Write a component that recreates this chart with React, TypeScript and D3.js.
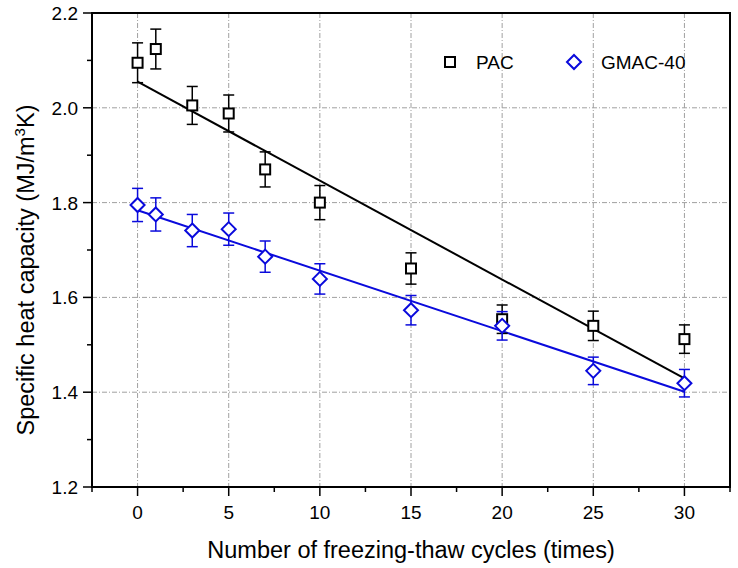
import React from "react";
import * as d3 from "d3";

const cycles = [0, 1, 3, 5, 7, 10, 15, 20, 25, 30];
const pacValues = [2.095, 2.124, 2.005, 1.988, 1.870, 1.800, 1.661, 1.554, 1.540, 1.512];
const pacErrors = [0.042, 0.042, 0.040, 0.039, 0.037, 0.036, 0.033, 0.030, 0.031, 0.030];
const gmacValues = [1.795, 1.775, 1.741, 1.744, 1.686, 1.639, 1.573, 1.540, 1.445, 1.419];
const gmacErrors = [0.035, 0.035, 0.034, 0.034, 0.033, 0.032, 0.031, 0.030, 0.029, 0.029];
const pacFit = [2.055, 1.429]; // at x=0 and x=30
const gmacFit = [1.784, 1.401];
const fitX = [0, 30];
const xTicks = [0, 5, 10, 15, 20, 25, 30];
const xMinorTicks = [-2.5, 2.5, 7.5, 12.5, 17.5, 22.5, 27.5, 32.5];
const yTicks = [1.2, 1.4, 1.6, 1.8, 2.0, 2.2];
const yMinorTicks = [1.3, 1.5, 1.7, 1.9, 2.1];
const seriesNames = ["PAC", "GMAC-40"];

const W = 738, H = 568;
const L = 92, R = 730, T = 13, B = 487;
const FONT = "Arial, 'Liberation Sans', sans-serif";
const BLUE = "#0a0adc";

export default function App() {
  const x = d3.scaleLinear().domain([-2.5, 32.5]).range([L, R]);
  const y = d3.scaleLinear().domain([1.2, 2.2]).range([B, T]);
  const line = d3.line<[number, number]>().x(d => x(d[0])).y(d => y(d[1]));

  const square = (cx: number, cy: number, key: string) => (
    <rect key={key} x={cx - 5} y={cy - 5} width={10} height={10} fill="white" stroke="black" strokeWidth={2} />
  );
  const diamond = (cx: number, cy: number, key: string, s = 7) => (
    <path key={key} d={`M${cx},${cy - s}L${cx + s},${cy}L${cx},${cy + s}L${cx - s},${cy}Z`} fill="white" stroke={BLUE} strokeWidth={2} />
  );
  const errBars = (vals: number[], errs: number[], color: string, pre: string) =>
    cycles.map((c, i) => {
      const cx = x(c), y1 = y(vals[i] + errs[i]), y2 = y(vals[i] - errs[i]);
      return (
        <g key={pre + i} stroke={color} strokeWidth={1.5}>
          <line x1={cx} x2={cx} y1={y1} y2={y2} />
          <line x1={cx - 5.5} x2={cx + 5.5} y1={y1} y2={y1} />
          <line x1={cx - 5.5} x2={cx + 5.5} y1={y2} y2={y2} />
        </g>
      );
    });

  return (
    <svg width={W} height={H} style={{ position: "absolute", left: 0, top: 0, background: "white" }} fontFamily={FONT}>
      {/* grid */}
      <g stroke="#a0a0a0" strokeWidth={1} strokeDasharray="5,2,1,2">
        {xTicks.map(t => <line key={"gx" + t} x1={x(t)} x2={x(t)} y1={T} y2={B} />)}
        {yTicks.filter(t => t > 1.2 && t < 2.2).map(t => <line key={"gy" + t} x1={L} x2={R} y1={y(t)} y2={y(t)} />)}
      </g>
      {/* fit lines */}
      <path d={line(fitX.map((v, i) => [v, pacFit[i]]) as any) || ""} stroke="black" strokeWidth={2} fill="none" />
      <path d={line(fitX.map((v, i) => [v, gmacFit[i]]) as any) || ""} stroke={BLUE} strokeWidth={2} fill="none" />
      {/* error bars */}
      {errBars(pacValues, pacErrors, "black", "pe")}
      {errBars(gmacValues, gmacErrors, BLUE, "ge")}
      {/* markers */}
      {cycles.map((c, i) => square(x(c), y(pacValues[i]), "ps" + i))}
      {cycles.map((c, i) => diamond(x(c), y(gmacValues[i]), "gd" + i))}
      {/* frame */}
      <rect x={L} y={T} width={R - L} height={B - T} fill="none" stroke="black" strokeWidth={2} />
      {/* ticks */}
      <g stroke="black" strokeWidth={1.5}>
        {xTicks.map(t => <line key={"xt" + t} x1={x(t)} x2={x(t)} y1={B} y2={B + 9} />)}
        {xMinorTicks.map(t => <line key={"xm" + t} x1={x(t)} x2={x(t)} y1={B} y2={B + 5} />)}
        {yTicks.map(t => <line key={"yt" + t} x1={L - 9} x2={L} y1={y(t)} y2={y(t)} />)}
        {yMinorTicks.map(t => <line key={"ym" + t} x1={L - 5} x2={L} y1={y(t)} y2={y(t)} />)}
      </g>
      <g fontSize={19} fill="black">
        {xTicks.map(t => <text key={"xl" + t} x={x(t)} y={519} textAnchor="middle">{t}</text>)}
        {yTicks.map(t => <text key={"yl" + t} x={78} y={y(t) + 7} textAnchor="end">{t.toFixed(1)}</text>)}
      </g>
      {/* axis titles */}
      <text x={(L + R) / 2} y={558} textAnchor="middle" fontSize={23.5}>Number of freezing-thaw cycles (times)</text>
      <text transform={`translate(34,270) rotate(-90)`} textAnchor="middle" fontSize={23.5}>
        Specific heat capacity (MJ/m<tspan dy={-9} fontSize={15}>3</tspan><tspan dy={9}>K)</tspan>
      </text>
      {/* legend */}
      {square(450, 62, "lg1")}
      <text x={476} y={69} fontSize={19}>{seriesNames[0]}</text>
      {diamond(574, 62, "lg2")}
      <text x={601} y={69} fontSize={19}>{seriesNames[1]}</text>
    </svg>
  );
}
